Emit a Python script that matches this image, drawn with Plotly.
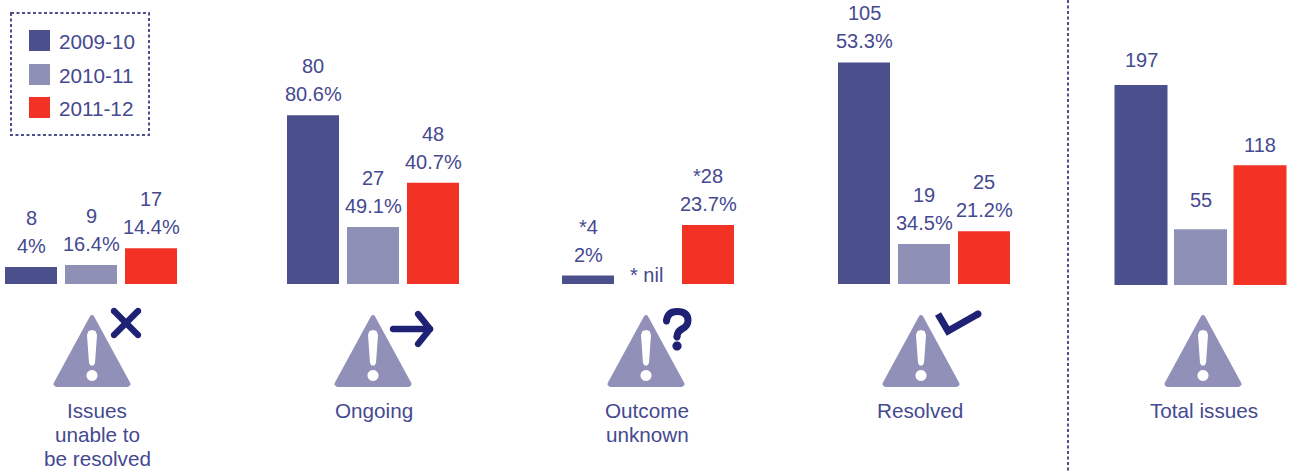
import numpy as np
import plotly.graph_objects as go

# Issue counts per outcome and year
periods = ["2009-10", "2010-11", "2011-12"]
outcomes = ["Issues unable to resolve", "Ongoing", "Outcome unknown", "Resolved"]
issues_0910 = [8, 80, 4, 105]
issues_1011 = [9, 27, 0, 19]
issues_1112 = [17, 48, 28, 25]
count_labels_0910 = ["8", "80", "*4", "105"]
count_labels_1011 = ["9", "27", "* nil", "19"]
count_labels_1112 = ["17", "48", "*28", "25"]
share_labels_0910 = ["4%", "80.6%", "2%", "53.3%"]
share_labels_1011 = ["16.4%", "49.1%", "", "34.5%"]
share_labels_1112 = ["14.4%", "40.7%", "23.7%", "21.2%"]
total_issues = [197, 55, 118]
caption_lines = [
    ["Issues", "unable to", "be resolved"],
    ["Ongoing"],
    ["Outcome", "unknown"],
    ["Resolved"],
    ["Total issues"],
]

# Page geometry
W, H = 1291, 471
NAVY, SLATE, RED = "#4B4F8C", "#8F90B6", "#F13224"
SERIES_COLOURS = [NAVY, SLATE, RED]
TEXT = "#454990"
ICON = "#1F2175"
TRI = "#9090B8"
FONT = "Liberation Sans"
LABEL_SIZE = 20
CAPTION_SIZE = 20.7

GROUP_CENTRES = [91, 373, 648, 924]
GROUP_SLOT, GROUP_BAR = 60, 52
TOTAL_CENTRE, TOTAL_SLOT, TOTAL_BAR = 1200.5, 59.5, 53
TOTAL_LABEL_RISE = [12, 16, 7]
CAPTION_X = [97, 373.5, 647, 920, 1204]
CAPTION_FIRST_Y = 410
CAPTION_STEP = 24
ICON_CENTRES = [92, 373, 646, 921, 1203]

# Axis ranges place the outcome baseline at 284px and the totals baseline at 285px
OUTCOME_SCALE = 2.11
TOTAL_SCALE = 1.015
outcome_range = [(284 - H) / OUTCOME_SCALE, 284 / OUTCOME_SCALE]
total_range = [(285 - H) / TOTAL_SCALE, 285 / TOTAL_SCALE]


def px(x, y):
    """Page pixels to paper coordinates."""
    return x / W, 1 - y / H


def path_from(points, close=True):
    parts = []
    for i, (x, y) in enumerate(points):
        u, v = px(x, y)
        parts.append(f"{'M' if i == 0 else 'L'}{u:.5f},{v:.5f}")
    return " ".join(parts) + (" Z" if close else "")


def paper_shape(path, fill=None, line=None, width=0, dash=None):
    shape = dict(type="path", xref="paper", yref="paper", path=path, layer="above")
    if fill:
        shape["fillcolor"] = fill
    shape["line"] = dict(color=line or "rgba(0,0,0,0)", width=width)
    if dash:
        shape["line"]["dash"] = dash
    return shape


def disc(cx, cy, r, colour):
    t = np.linspace(0, 2 * np.pi, 28, endpoint=False)
    pts = list(zip(cx + r * np.cos(t), cy + r * np.sin(t)))
    return paper_shape(path_from(pts), fill=colour)


def capsule(x1, y1, x2, y2, r, colour):
    """A stroke with round ends, drawn as a filled outline."""
    a = np.arctan2(y2 - y1, x2 - x1)
    t = np.linspace(-np.pi / 2, np.pi / 2, 9)
    pts = [(x2 + r * np.cos(a + s), y2 + r * np.sin(a + s)) for s in t]
    pts += [(x1 + r * np.cos(a + np.pi + s), y1 + r * np.sin(a + np.pi + s)) for s in t]
    return paper_shape(path_from(pts), fill=colour)


def warning_triangle(cx):
    """Rounded warning triangle with a white exclamation mark."""
    apex, base, half = 315, 387, 38.5
    pts = [
        (cx - 3.5, apex + 4), (cx - 1.5, apex + 0.6), (cx, apex), (cx + 1.5, apex + 0.6), (cx + 3.5, apex + 4),
        (cx + half - 0.2, base - 4), (cx + half, base - 2), (cx + half - 2.5, base),
        (cx - half + 2.5, base), (cx - half, base - 2), (cx - half + 0.2, base - 4),
    ]
    mark = [
        (cx - 5, 335), (cx - 3.5, 331), (cx, 330), (cx + 3.5, 331), (cx + 5, 335),
        (cx + 3, 363), (cx + 1.5, 365.5), (cx - 1.5, 365.5), (cx - 3, 363),
    ]
    return [
        paper_shape(path_from(pts), fill=TRI),
        paper_shape(path_from(mark), fill="#FFFFFF"),
        disc(cx, 375.5, 5.5, "#FFFFFF"),
    ]


def stroke_path(points, width):
    return paper_shape(path_from(points, close=False), line=ICON, width=width)


shapes = []
for cx in ICON_CENTRES:
    shapes += warning_triangle(cx)

# Outcome glyphs next to the triangles
shapes += [
    capsule(114, 311, 138, 335, 3.2, ICON),
    capsule(138, 311, 114, 335, 3.2, ICON),
    capsule(393, 329, 430, 329, 3.2, ICON),
    capsule(418, 314, 430, 329, 3.2, ICON),
    capsule(418, 344, 430, 329, 3.2, ICON),
]
qp = [(666.5, 321), (667.5, 311.5), (677, 311.5), (688, 311.5), (688, 320.5),
      (688, 326), (682, 329), (677, 331.5), (677, 337)]
coords = [px(*p) for p in qp]
q_path = f"M{coords[0][0]:.5f},{coords[0][1]:.5f}"
for j in range(1, len(coords), 2):
    q_path += f" Q{coords[j][0]:.5f},{coords[j][1]:.5f} {coords[j+1][0]:.5f},{coords[j+1][1]:.5f}"
shapes += [
    paper_shape(q_path, line=ICON, width=7),
    disc(666.5, 321, 3.5, ICON),
    disc(677, 337, 3.5, ICON),
    disc(677, 346, 4.6, ICON),
    stroke_path([(938, 314), (948, 331), (978, 314)], 7),
    disc(978, 314, 3.5, ICON),
]

# Dashed separator and legend frame
for path in (
    path_from([(1068, 0), (1068, H)], close=False),
    path_from([(11, 13), (149, 13), (149, 135), (11, 135)]),
):
    shapes.append(paper_shape(path, line=NAVY, width=2, dash="3px,2.5px"))

annotations = []


def paper_text(text, x, y, anchor="center"):
    u, v = px(x, y)
    annotations.append(dict(
        text=text, x=u, y=v, xref="paper", yref="paper", xanchor=anchor, yanchor="middle",
        showarrow=False, font=dict(family=FONT, size=CAPTION_SIZE, color=TEXT),
    ))


def bar_label(text, x, y, yaxis, rise):
    annotations.append(dict(
        text=text, x=x, y=y, xref="x", yref=yaxis, xanchor="center", yanchor="bottom",
        yshift=rise, showarrow=False, font=dict(family=FONT, size=LABEL_SIZE, color=TEXT),
    ))


# Legend entries
for name, colour, y in zip(periods, SERIES_COLOURS, [40.5, 74.5, 107.5]):
    x0, y0 = px(29, y - 10.5)
    x1, y1 = px(50, y + 10.5)
    shapes.append(dict(type="rect", xref="paper", yref="paper", x0=x0, x1=x1, y0=y0, y1=y1,
                       fillcolor=colour, line=dict(width=0), layer="above"))
    paper_text(name, 57, y + 1, "left")

# Captions under the icons
for x, lines in zip(CAPTION_X, caption_lines):
    for k, line in enumerate(lines):
        paper_text(line, x, CAPTION_FIRST_Y + k * CAPTION_STEP)

fig = go.Figure()

yearly = [issues_0910, issues_1011, issues_1112]
counts = [count_labels_0910, count_labels_1011, count_labels_1112]
shares = [share_labels_0910, share_labels_1011, share_labels_1112]

for i, name in enumerate(periods):
    fig.add_bar(
        x=GROUP_CENTRES, y=yearly[i], name=name, marker=dict(color=SERIES_COLOURS[i], line=dict(width=0)),
        width=GROUP_BAR, offset=(i - 1) * GROUP_SLOT - GROUP_BAR / 2, yaxis="y", showlegend=False,
    )
    for c, v, count, share in zip(GROUP_CENTRES, yearly[i], counts[i], shares[i]):
        x = c + (i - 1) * GROUP_SLOT
        if share:
            bar_label(share, x, v, "y", 8)
            bar_label(count, x, v, "y", 36)
        else:
            bar_label(count, x - 2, v, "y", -4)

for i, (name, v) in enumerate(zip(periods, total_issues)):
    fig.add_bar(
        x=[TOTAL_CENTRE], y=[v], name=name, marker=dict(color=SERIES_COLOURS[i], line=dict(width=0)),
        width=TOTAL_BAR, offset=(i - 1) * TOTAL_SLOT - TOTAL_BAR / 2, yaxis="y2", showlegend=False,
    )
    bar_label(str(v), TOTAL_CENTRE + (i - 1) * TOTAL_SLOT, v, "y2", TOTAL_LABEL_RISE[i])

fig.update_layout(
    width=W, height=H, margin=dict(l=0, r=0, t=0, b=0),
    paper_bgcolor="#FFFFFF", plot_bgcolor="#FFFFFF",
    barmode="overlay", showlegend=False,
    xaxis=dict(range=[0, W], visible=False),
    yaxis=dict(range=outcome_range, visible=False),
    yaxis2=dict(range=total_range, visible=False, overlaying="y"),
    shapes=shapes, annotations=annotations,
)

fig.write_html("out.html", config=dict(displayModeBar=False))
